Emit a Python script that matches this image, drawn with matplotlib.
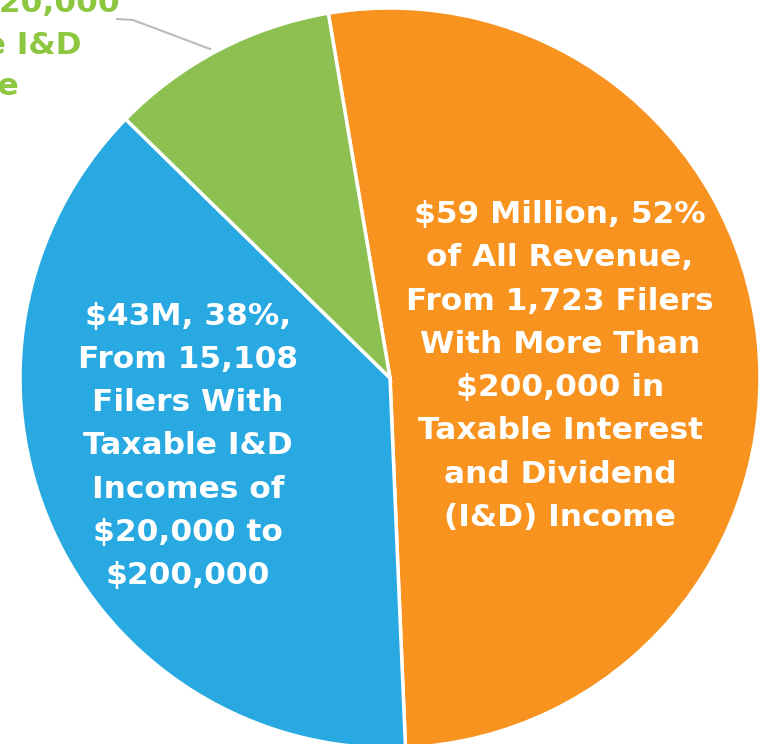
import matplotlib.pyplot as plt

W, H = 763, 744
DPI = 100

labels = ['Over $200,000', '$20,000 to $200,000', 'Under $20,000']
shares = [52, 38, 10]
colors = ['#F7931E', '#29A9E1', '#8CC152']

orange_text = ('$59 Million, 52%\nof All Revenue,\nFrom 1,723 Filers\nWith More Than\n'
               '$200,000 in\nTaxable Interest\nand Dividend\n(I&D) Income')
blue_text = ('$43M, 38%,\nFrom 15,108\nFilers With\nTaxable I&D\nIncomes of\n'
             '$20,000 to\n$200,000')
green_text = 'Less Than $20,000\nin Taxable I&D\nIncome'

fig = plt.figure(figsize=(W / DPI, H / DPI), dpi=DPI)
ax = fig.add_axes([0, 0, 1, 1])

# pie in pixel coordinates (y up), bottom runs off the canvas
ax.pie(shares, colors=colors, startangle=99.6, counterclock=False,
       center=(390, H - 378), radius=370, frame=False,
       wedgeprops=dict(edgecolor='white', linewidth=2.5))
ax.set_xlim(0, W)
ax.set_ylim(0, H)
ax.set_aspect('auto')
ax.axis('off')

font = dict(family='DejaVu Sans', fontweight='bold', fontsize=22.5,
            ha='center', va='center', linespacing=1.62)
ax.text(560, H - 366, orange_text, color='white', **font)
ax.text(188, H - 446, blue_text, color='white', **font)
ax.text(-45, H - 45, green_text, color='#8DC63F', **dict(font, linespacing=1.55))

# leader line to the green slice
ax.plot([117, 133, 210], [H - 19, H - 20, H - 49], color='#BBBBBB', lw=1.5,
        clip_on=False)

fig.savefig('out.png', dpi=DPI, facecolor='white')
